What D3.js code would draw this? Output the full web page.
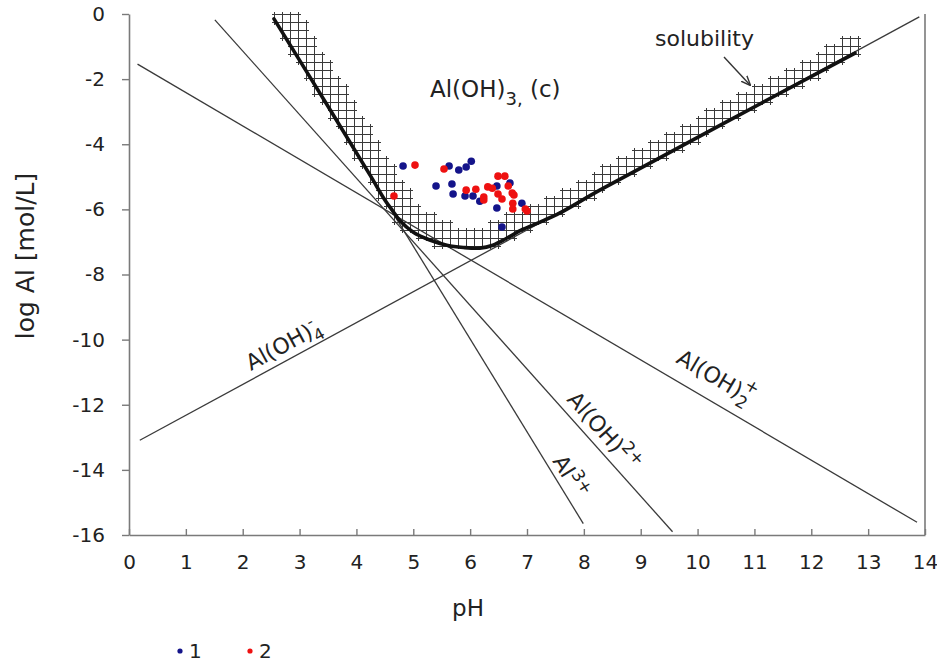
<!DOCTYPE html>
<html>
<head>
<meta charset="utf-8">
<script src="https://cdn.jsdelivr.net/npm/d3@7"></script>
<style>
  body { margin: 0; background: #fff; }
  svg { display: block; font-family: "DejaVu Sans", Verdana, sans-serif; }
</style>
</head>
<body>
<div id="chart"></div>
<script>
// Tick labels
const xTickValues = [0, 1, 2, 3, 4, 5, 6, 7, 8, 9, 10, 11, 12, 13, 14];
const yTickValues = [0, -2, -4, -6, -8, -10, -12, -14, -16];

// Thin species lines (start / end)
const speciesNames = ["Al3+", "Al(OH)2+", "Al(OH)2 +", "Al(OH)4-"];
const lineStartPH  = [2.55, 1.51, 0.15, 0.19];
const lineStartLog = [-0.15, -0.18, -1.54, -13.09];
const lineEndPH    = [7.99, 9.56, 13.86, 13.90];
const lineEndLog   = [-15.65, -15.90, -15.61, -0.09];

// Solubility curve of Al(OH)3 (thick line)
const solPH  = [2.55, 3.54, 4.24, 4.50, 4.64, 4.77, 5.00, 5.29, 5.59, 5.88, 6.17, 6.40, 6.65, 6.93, 7.23, 7.58, 8.28, 12.77];
const solLog = [-0.15, -2.95, -4.95, -5.71, -6.05, -6.36, -6.70, -6.94, -7.10, -7.17, -7.19, -7.10, -6.88, -6.61, -6.39, -6.11, -5.41, -1.20];

// Samples, series 1 (blue) and 2 (red)
const set1PH  = [4.82, 5.63, 5.80, 5.93, 6.02, 5.40, 5.68, 5.70, 5.91, 6.05, 6.17, 6.47, 6.70, 6.47, 6.91, 6.56];
const set1Log = [-4.67, -4.67, -4.79, -4.70, -4.52, -5.28, -5.22, -5.53, -5.59, -5.59, -5.75, -5.28, -5.19, -5.96, -5.81, -6.54];
const set2PH  = [5.03, 5.54, 4.66, 5.93, 6.10, 6.24, 6.24, 6.31, 6.39, 6.49, 6.61, 6.49, 6.56, 6.67, 6.74, 6.77, 6.75, 6.75, 6.97, 7.00];
const set2Log = [-4.64, -4.76, -5.59, -5.41, -5.38, -5.62, -5.71, -5.31, -5.35, -4.98, -4.98, -5.53, -5.68, -5.28, -5.50, -5.56, -5.81, -5.99, -5.99, -6.05];

const width = 937, height = 663;
const x = d3.scaleLinear().domain([0, 14]).range([129, 925]);
const y = d3.scaleLinear().domain([-16, 0]).range([535, 14]);

const svg = d3.select("#chart").append("svg")
  .attr("width", width).attr("height", height);
svg.append("rect").attr("width", width).attr("height", height).attr("fill", "#fff");

const defs = svg.append("defs");
defs.append("marker")
  .attr("id", "arrow").attr("viewBox", "0 0 10 10")
  .attr("refX", 9).attr("refY", 5)
  .attr("markerWidth", 7).attr("markerHeight", 7)
  .attr("orient", "auto")
  .append("path").attr("d", "M0,1 L10,5 L0,9").attr("fill", "none")
  .attr("stroke", "#333").attr("stroke-width", 1.4);

// Axes
const axisColor = "#7a7a7a";
const yAxis = svg.append("g")
  .attr("transform", `translate(${x(0)},0)`)
  .call(d3.axisLeft(y).tickValues(yTickValues).tickFormat(d => String(d))
    .tickSize(7).tickSizeOuter(0).tickPadding(17));
const xAxis = svg.append("g")
  .attr("transform", `translate(0,${y(-16)})`)
  .call(d3.axisBottom(x).tickValues(xTickValues).tickFormat(d => String(d))
    .tickSize(-6).tickSizeOuter(0).tickPadding(20));
[yAxis, xAxis].forEach(a => {
  a.select(".domain").attr("stroke", axisColor).attr("stroke-width", 1.6);
  a.selectAll(".tick line").attr("stroke", axisColor).attr("stroke-width", 1.4);
  a.selectAll(".tick text").attr("fill", "#222").style("font-size", "20px")
    .style("font-family", '"DejaVu Sans", Verdana, sans-serif');
});
// right border
svg.append("line")
  .attr("x1", x(14)).attr("x2", x(14)).attr("y1", y(0)).attr("y2", y(-16))
  .attr("stroke", axisColor).attr("stroke-width", 1.6);

const plot = svg.append("g");

// Solubility curve (drawn on top, but needed first for the hatch band)
const solPts = solPH.map((p, i) => [x(p), y(solLog[i])]);
const solLine = d3.line().curve(d3.curveCatmullRom.alpha(0.5));
const hatchG = plot.append("g");
const thinG = plot.append("g");
const solPath = plot.append("path")
  .attr("d", solLine(solPts))
  .attr("fill", "none").attr("stroke", "#111")
  .attr("stroke-width", 3.6).attr("stroke-linecap", "round");

// Hatch band: grid cells on the solid side of the curve
const node = solPath.node();
const total = node.getTotalLength();
const samples = d3.range(0, total, 1.5).map(t => {
  const p = node.getPointAtLength(t);
  return [p.x, p.y];
});
const last = samples[samples.length - 1];
const poly = samples.concat([[last[0], y(0)], [samples[0][0], y(0)]]);
const cell = 8;
function bandWidth(px) {
  if (px < 420) return 21;
  if (px > 560) return 14;
  return 21 - 7 * (px - 420) / 140;
}
const cells = [];
for (let gx = 250.5; gx < 880; gx += cell) {
  for (let gy = y(0) + 0.5; gy < 270; gy += cell) {
    const c = [gx + cell / 2, gy + cell / 2];
    if (!d3.polygonContains(poly, c)) continue;
    let dmin = Infinity;
    for (const s of samples) {
      const d = Math.hypot(s[0] - c[0], s[1] - c[1]);
      if (d < dmin) dmin = d;
    }
    if (dmin < bandWidth(c[0])) cells.push([gx, gy]);
  }
}
const ext = 2.5;
hatchG.selectAll("path").data(cells).join("path")
  .attr("d", ([cx, cy]) =>
    `M${cx - ext},${cy}H${cx + cell + ext}M${cx - ext},${cy + cell}H${cx + cell + ext}` +
    `M${cx},${cy - ext}V${cy + cell + ext}M${cx + cell},${cy - ext}V${cy + cell + ext}`)
  .attr("fill", "none").attr("stroke", "#3a3a3a").attr("stroke-width", 1);

// Thin species lines
thinG.selectAll("line").data(speciesNames).join("line")
  .attr("x1", (d, i) => x(lineStartPH[i])).attr("y1", (d, i) => y(lineStartLog[i]))
  .attr("x2", (d, i) => x(lineEndPH[i])).attr("y2", (d, i) => y(lineEndLog[i]))
  .attr("stroke", "#3a3a3a").attr("stroke-width", 1.3);

// Samples
const blue = "#14148a", red = "#ee1111";
plot.append("g").selectAll("circle").data(set1PH).join("circle")
  .attr("cx", d => x(d)).attr("cy", (d, i) => y(set1Log[i])).attr("r", 3.8).attr("fill", blue);
plot.append("g").selectAll("circle").data(set2PH).join("circle")
  .attr("cx", d => x(d)).attr("cy", (d, i) => y(set2Log[i])).attr("r", 3.8).attr("fill", red);

// Labels
const txt = (px, py, rot) => svg.append("text")
  .attr("transform", `translate(${px},${py}) rotate(${rot})`)
  .attr("fill", "#222").style("font-size", "22px");

const t1 = txt(430, 97, 0).style("font-size", "23px");
t1.append("tspan").text("Al(OH)");
t1.append("tspan").attr("dy", 8).style("font-size", "18px").text("3,");
t1.append("tspan").attr("dy", -8).text(" (c)");

txt(655, 46, 0).text("solubility");
svg.append("line")
  .attr("x1", 724).attr("y1", 57).attr("x2", 750).attr("y2", 85)
  .attr("stroke", "#333").attr("stroke-width", 1.4).attr("marker-end", "url(#arrow)");

const t4 = txt(251, 371, -28.5);
t4.append("tspan").text("Al(OH)");
t4.append("tspan").attr("dy", 6).style("font-size", "16px").text("4");
t4.append("tspan").attr("dx", -10).attr("dy", -16).style("font-size", "16px").text("-");

const t3 = txt(675, 362, 30.4);
t3.append("tspan").text("Al(OH)");
t3.append("tspan").attr("dy", 7).style("font-size", "17px").text("2");
t3.append("tspan").attr("dx", -11).attr("dy", -19).style("font-size", "17px").text("+");

const t2 = txt(566, 400, 48.2);
t2.append("tspan").text("Al(OH)");
t2.append("tspan").attr("dy", -9).style("font-size", "17px").text("2+");

const t0 = txt(552, 461, 58.5);
t0.append("tspan").text("Al");
t0.append("tspan").attr("dy", -9).style("font-size", "17px").text("3+");

// Axis titles
svg.append("text").attr("x", 468).attr("y", 616).attr("text-anchor", "middle")
  .attr("fill", "#222").style("font-size", "23px").text("pH");
svg.append("text").attr("transform", "translate(34,256) rotate(-90)")
  .attr("text-anchor", "middle").attr("fill", "#222").style("font-size", "25px")
  .text("log Al [mol/L]");

// Legend
const legendLabels = ["1", "2"];
const legendColors = [blue, red];
const leg = svg.append("g").selectAll("g").data(legendLabels).join("g")
  .attr("transform", (d, i) => `translate(${180 + i * 70},651)`);
leg.append("circle").attr("r", 2.6).attr("fill", (d, i) => legendColors[i]);
leg.append("text").attr("x", 9).attr("y", 7).attr("fill", "#222")
  .style("font-size", "20px").text(d => d);
</script>
</body>
</html>
